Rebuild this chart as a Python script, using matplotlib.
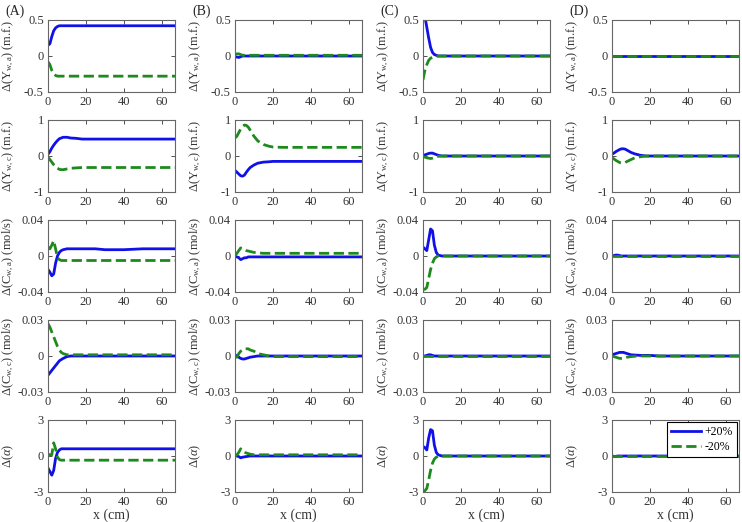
import numpy as np
import matplotlib
matplotlib.use('Agg')
import matplotlib.pyplot as plt

plt.rcParams['font.family'] = ['Liberation Serif', 'DejaVu Serif']
plt.rcParams['mathtext.fontset'] = 'custom'
plt.rcParams['mathtext.rm'] = 'Liberation Serif'
plt.rcParams['mathtext.it'] = 'Liberation Serif:italic'

# position along the channel (cm)
x = [0, 1, 2, 3, 4, 5, 6, 7, 8, 10, 12, 15, 18, 20, 25, 30, 40, 50, 60, 67]

# row 1: Y_w,a
a1_pos = [0.15, 0.17, 0.27, 0.35, 0.39, 0.41, 0.42, 0.42, 0.42, 0.42, 0.42, 0.42, 0.42, 0.42, 0.42, 0.42, 0.42, 0.42, 0.42, 0.42]
a1_neg = [-0.08, -0.12, -0.20, -0.25, -0.27, -0.28, -0.28, -0.28, -0.28, -0.28, -0.28, -0.28, -0.28, -0.28, -0.28, -0.28, -0.28, -0.28, -0.28, -0.28]
b1_pos = [-0.01, -0.015, -0.02, -0.01, 0.0, 0.0, 0.0, 0.0, 0.0, 0.0, 0.0, 0.0, 0.0, 0.0, 0.0, 0.0, 0.0, 0.0, 0.0, 0.0]
b1_neg = [0.02, 0.03, 0.03, 0.02, 0.01, 0.01, 0.01, 0.01, 0.01, 0.01, 0.01, 0.01, 0.01, 0.01, 0.01, 0.01, 0.01, 0.01, 0.01, 0.01]
c1_pos = [0.65, 0.55, 0.40, 0.25, 0.12, 0.05, 0.02, 0.01, 0.0, 0.0, 0.0, 0.0, 0.0, 0.0, 0.0, 0.0, 0.0, 0.0, 0.0, 0.0]
c1_neg = [-0.33, -0.20, -0.12, -0.06, -0.03, -0.02, -0.01, -0.005, 0.0, 0.0, 0.0, 0.0, 0.0, 0.0, 0.0, 0.0, 0.0, 0.0, 0.0, 0.0]
d1_pos = [0.0, 0.0, 0.0, 0.0, 0.0, 0.0, 0.0, 0.0, 0.0, 0.0, 0.0, 0.0, 0.0, 0.0, 0.0, 0.0, 0.0, 0.0, 0.0, 0.0]
d1_neg = [0.0, 0.0, 0.0, 0.0, 0.0, 0.0, 0.0, 0.0, 0.0, 0.0, 0.0, 0.0, 0.0, 0.0, 0.0, 0.0, 0.0, 0.0, 0.0, 0.0]

# row 2: Y_w,c
a2_pos = [0.05, 0.12, 0.22, 0.30, 0.37, 0.43, 0.48, 0.50, 0.52, 0.52, 0.50, 0.49, 0.47, 0.47, 0.47, 0.47, 0.47, 0.47, 0.47, 0.47]
a2_neg = [-0.03, -0.10, -0.17, -0.24, -0.30, -0.34, -0.37, -0.38, -0.38, -0.36, -0.34, -0.33, -0.32, -0.32, -0.32, -0.32, -0.32, -0.32, -0.32, -0.32]
b2_pos = [-0.40, -0.45, -0.50, -0.55, -0.56, -0.53, -0.45, -0.38, -0.32, -0.25, -0.20, -0.17, -0.16, -0.15, -0.15, -0.15, -0.15, -0.15, -0.15, -0.15]
b2_neg = [0.50, 0.55, 0.65, 0.75, 0.82, 0.86, 0.85, 0.80, 0.72, 0.55, 0.42, 0.32, 0.27, 0.25, 0.24, 0.24, 0.24, 0.24, 0.24, 0.24]
c2_pos = [0.02, 0.03, 0.05, 0.07, 0.08, 0.08, 0.06, 0.04, 0.02, 0.0, 0.0, 0.0, 0.0, 0.0, 0.0, 0.0, 0.0, 0.0, 0.0, 0.0]
c2_neg = [-0.02, -0.03, -0.05, -0.06, -0.07, -0.06, -0.04, -0.02, -0.01, 0.0, 0.0, 0.0, 0.0, 0.0, 0.0, 0.0, 0.0, 0.0, 0.0, 0.0]
d2_pos = [0.05, 0.08, 0.12, 0.15, 0.18, 0.20, 0.20, 0.19, 0.16, 0.10, 0.06, 0.02, 0.0, 0.0, 0.0, 0.0, 0.0, 0.0, 0.0, 0.0]
d2_neg = [-0.05, -0.08, -0.12, -0.15, -0.18, -0.19, -0.19, -0.18, -0.15, -0.10, -0.05, -0.02, 0.0, 0.0, 0.0, 0.0, 0.0, 0.0, 0.0, 0.0]

# row 3: C_w,a
a3_pos = [-0.015, -0.018, -0.022, -0.020, -0.008, 0.0, 0.004, 0.006, 0.007, 0.008, 0.008, 0.008, 0.008, 0.008, 0.008, 0.007, 0.007, 0.008, 0.008, 0.008]
a3_neg = [0.010, 0.008, 0.012, 0.017, 0.008, -0.002, -0.004, -0.005, -0.005, -0.005, -0.005, -0.005, -0.005, -0.005, -0.005, -0.005, -0.005, -0.005, -0.005, -0.005]
b3_pos = [0.0, -0.001, -0.002, -0.004, -0.003, -0.002, -0.002, -0.001, -0.001, -0.001, -0.001, -0.001, -0.001, -0.001, -0.001, -0.001, -0.001, -0.001, -0.001, -0.001]
b3_neg = [0.001, 0.003, 0.006, 0.009, 0.008, 0.007, 0.006, 0.0055, 0.005, 0.004, 0.0035, 0.003, 0.003, 0.003, 0.003, 0.003, 0.003, 0.003, 0.003, 0.003]
c3_pos = [0.010, 0.008, 0.006, 0.018, 0.030, 0.028, 0.012, 0.004, 0.001, 0.0, 0.0, 0.0, 0.0, 0.0, 0.0, 0.0, 0.0, 0.0, 0.0, 0.0]
c3_neg = [-0.037, -0.037, -0.035, -0.025, -0.015, -0.008, -0.003, -0.001, 0.0, 0.0, 0.0, 0.0, 0.0, 0.0, 0.0, 0.0, 0.0, 0.0, 0.0, 0.0]
d3_pos = [0.0, 0.0005, 0.001, 0.001, 0.0005, 0.0, 0.0, 0.0, 0.0, 0.0, 0.0, 0.0, 0.0, 0.0, 0.0, 0.0, 0.0, 0.0, 0.0, 0.0]
d3_neg = [0.0, 0.0, 0.0, 0.0, 0.0, 0.0, 0.0, 0.0, 0.0, 0.0, 0.0, 0.0, 0.0, 0.0, 0.0, 0.0, 0.0, 0.0, 0.0, 0.0]

# row 4: C_w,c
a4_pos = [-0.016, -0.014, -0.012, -0.010, -0.008, -0.006, -0.004, -0.003, -0.002, -0.0005, 0.0, 0.0, 0.0, 0.0, 0.0, 0.0, 0.0, 0.0, 0.0, 0.0]
a4_neg = [0.027, 0.024, 0.020, 0.016, 0.012, 0.008, 0.005, 0.003, 0.002, 0.001, 0.001, 0.001, 0.001, 0.001, 0.001, 0.001, 0.001, 0.001, 0.001, 0.001]
b4_pos = [0.001, 0.0, -0.001, -0.002, -0.0025, -0.0025, -0.002, -0.0015, -0.001, -0.0005, 0.0, 0.0, 0.0, 0.0, 0.0, 0.0, 0.0, 0.0, 0.0, 0.0]
b4_neg = [-0.001, -0.001, 0.002, 0.004, 0.005, 0.006, 0.006, 0.006, 0.005, 0.004, 0.002, 0.001, 0.0, -0.0005, -0.0005, -0.0005, -0.0005, -0.0005, -0.0005, -0.0005]
c4_pos = [0.0, 0.0, 0.0005, 0.001, 0.001, 0.0005, 0.0, 0.0, 0.0, 0.0, 0.0, 0.0, 0.0, 0.0, 0.0, 0.0, 0.0, 0.0, 0.0, 0.0]
c4_neg = [0.0, 0.0, 0.0, 0.0, 0.0, 0.0, 0.0, 0.0, 0.0, 0.0, 0.0, 0.0, 0.0, 0.0, 0.0, 0.0, 0.0, 0.0, 0.0, 0.0]
d4_pos = [0.001, 0.0015, 0.002, 0.0025, 0.003, 0.003, 0.003, 0.0025, 0.002, 0.001, 0.0008, 0.0005, 0.0005, 0.0005, 0.0, 0.0, 0.0, 0.0, 0.0, 0.0]
d4_neg = [0.0, -0.0005, -0.001, -0.0015, -0.002, -0.002, -0.002, -0.0015, -0.001, -0.0005, -0.0002, 0.0, 0.0, 0.0, 0.0, 0.0, 0.0, 0.0, 0.0, 0.0]

# row 5: alpha
a5_pos = [-1.0, -1.3, -1.6, -1.2, -0.2, 0.3, 0.5, 0.6, 0.6, 0.6, 0.6, 0.6, 0.6, 0.6, 0.6, 0.6, 0.6, 0.6, 0.6, 0.6]
a5_neg = [0.15, 0.1, 0.1, 1.1, 0.6, -0.1, -0.3, -0.35, -0.35, -0.35, -0.35, -0.35, -0.35, -0.35, -0.35, -0.35, -0.35, -0.35, -0.35, -0.35]
b5_pos = [0.0, 0.0, -0.05, -0.15, -0.1, -0.07, -0.05, -0.02, 0.0, 0.0, 0.0, 0.0, 0.0, 0.0, 0.0, 0.0, 0.0, 0.0, 0.0, 0.0]
b5_neg = [0.0, 0.1, 0.3, 0.6, 0.4, 0.3, 0.25, 0.2, 0.15, 0.1, 0.1, 0.1, 0.1, 0.1, 0.1, 0.1, 0.1, 0.1, 0.1, 0.1]
c5_pos = [0.8, 0.7, 0.5, 1.5, 2.2, 2.1, 0.9, 0.3, 0.1, 0.0, 0.0, 0.0, 0.0, 0.0, 0.0, 0.0, 0.0, 0.0, 0.0, 0.0]
c5_neg = [-2.9, -2.9, -2.7, -2.0, -1.2, -0.6, -0.25, -0.1, -0.03, 0.0, 0.0, 0.0, 0.0, 0.0, 0.0, 0.0, 0.0, 0.0, 0.0, 0.0]
d5_pos = [0.0, -0.03, -0.03, 0.0, 0.0, 0.0, 0.0, 0.0, 0.0, 0.0, 0.0, 0.0, 0.0, 0.0, 0.0, 0.0, 0.0, 0.0, 0.0, 0.0]
d5_neg = [0.0, 0.0, 0.0, 0.0, 0.0, 0.0, 0.0, 0.0, 0.0, 0.0, 0.0, 0.0, 0.0, 0.0, 0.0, 0.0, 0.0, 0.0, 0.0, 0.0]

panels = [[(a1_pos, a1_neg), (b1_pos, b1_neg), (c1_pos, c1_neg), (d1_pos, d1_neg)],
          [(a2_pos, a2_neg), (b2_pos, b2_neg), (c2_pos, c2_neg), (d2_pos, d2_neg)],
          [(a3_pos, a3_neg), (b3_pos, b3_neg), (c3_pos, c3_neg), (d3_pos, d3_neg)],
          [(a4_pos, a4_neg), (b4_pos, b4_neg), (c4_pos, c4_neg), (d4_pos, d4_neg)],
          [(a5_pos, a5_neg), (b5_pos, b5_neg), (c5_pos, c5_neg), (d5_pos, d5_neg)]]

ylabels = [r'$\Delta$(Y$_{\mathrm{w,a}}$) (m.f.)',
           r'$\Delta$(Y$_{\mathrm{w,c}}$) (m.f.)',
           r'$\Delta$(C$_{\mathrm{w,a}}$) (mol/s)',
           r'$\Delta$(C$_{\mathrm{w,c}}$) (mol/s)',
           r'$\Delta$($\alpha$)']
ylims = [0.5, 1, 0.04, 0.03, 3]
ytick_text = [['-0.5', '0', '0.5'], ['-1', '0', '1'], ['-0.04', '0', '0.04'],
              ['-0.03', '0', '0.03'], ['-3', '0', '3']]
col_letters = ['(A)', '(B)', '(C)', '(D)']

W, H = 742, 522
lefts = [48, 235, 423, 612]
tops = [20, 120, 220, 320, 420]
aw, ah = 127, 72

blue = '#1010e8'
green = '#1e8a1e'

fig = plt.figure(figsize=(W / 100, H / 100), dpi=100)

for r in range(5):
    for c in range(4):
        ax = fig.add_axes([lefts[c] / W, 1 - (tops[r] + ah) / H, aw / W, ah / H])
        pos, neg = panels[r][c]
        ax.plot(x, pos, '-', color=blue, lw=2, label='+20%')
        ax.plot(x, neg, '--', color=green, lw=2, label='-20%')
        ax.set_xlim(0, 67)
        lim = ylims[r]
        ax.set_ylim(-lim, lim)
        ax.set_yticks([-lim, 0, lim])
        ax.set_yticklabels(ytick_text[r])
        ax.set_xticks([0, 20, 40, 60])
        ax.tick_params(direction='in', top=True, right=True, labelsize=9,
                       length=3, width=0.6, colors='#333333', pad=3)
        for s in ax.spines.values():
            s.set_color('#666666')
            s.set_linewidth(0.8)
        ax.set_ylabel(ylabels[r], fontsize=9, color='#333333')
        # fixed label position, like the original layout
        ax.yaxis.set_label_coords(-32 / aw, 0.5)
        if r == 4:
            ax.set_xlabel('x (cm)', fontsize=10, labelpad=0, color='#333333')
        if r == 0:
            fig.text((lefts[c] - 43) / W, 1 - 11 / H, col_letters[c],
                     fontsize=10, va='center', ha='left', color='#222222')
        if r == 4 and c == 3:
            leg = ax.legend(loc='upper right', fontsize=8.5, fancybox=False,
                            edgecolor='black', framealpha=1, handlelength=2.6,
                            borderaxespad=0.2, labelspacing=0.3, borderpad=0.3,
                            handletextpad=0.3)
            leg.get_frame().set_linewidth(0.8)

fig.savefig('out.png', dpi=100)
